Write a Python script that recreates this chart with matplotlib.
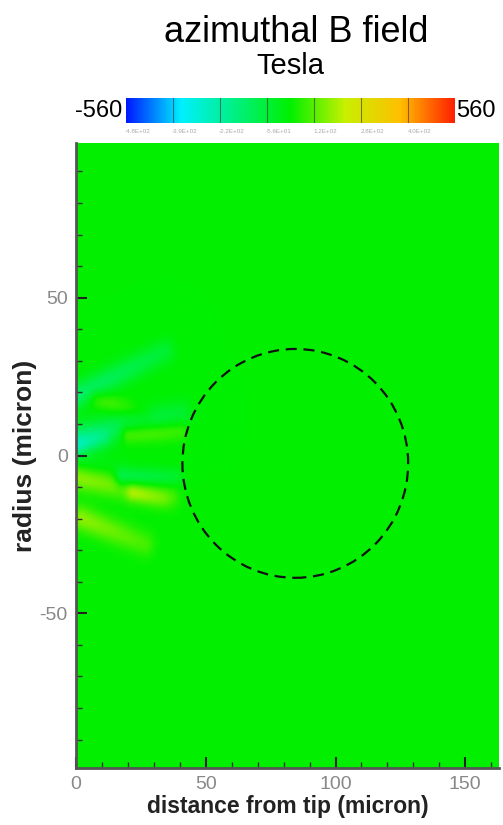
import numpy as np
import matplotlib
matplotlib.use('Agg')
import matplotlib.pyplot as plt
from matplotlib.colors import LinearSegmentedColormap
from matplotlib.patches import Ellipse

plt.rcParams['font.family'] = ['Liberation Sans', 'DejaVu Sans']
plt.rcParams['axes.unicode_minus'] = False

# colour range of the field (Tesla)
vmin, vmax = -560, 560
cbar_tick_labels = ['-4.8E+02', '-3.9E+02', '-2.2E+02', '-5.6E+01',
                    '1.2E+02', '2.8E+02', '4.0E+02']

# streaks in the field (micron, Tesla)
streak_x0 = [0, 8, 0, 20, 18, 0, 2, 0, 22, 2]
streak_y0 = [19, 18, 6, 7, -7, -7, -20, 3, -12, -2]
streak_x1 = [34, 26, 40, 40, 38, 36, 26, 10, 33, 16]
streak_y1 = [33, 13, 13, 8, -7, -13, -28, 5, -14, -4]
streak_w = [2.8, 2.2, 3.2, 2.2, 2.2, 2.8, 2.8, 2.2, 2.0, 2.5]
streak_val = [-150, 70, -150, 130, -140, 130, 130, -170, 90, -40]

# dashed circle (target)
circle_x, circle_y = 84.5, -2.5
circle_w, circle_h = 87.0, 72.5

x = np.linspace(0, 163, 400)
y = np.linspace(-99, 99, 500)
X, Y = np.meshgrid(x, y)
field = np.zeros_like(X)
for x0, y0, x1, y1, w, v in zip(streak_x0, streak_y0, streak_x1, streak_y1,
                                 streak_w, streak_val):
    dx, dy = x1 - x0, y1 - y0
    t = np.clip(((X - x0) * dx + (Y - y0) * dy) / (dx * dx + dy * dy), 0, 1)
    d2 = (X - (x0 + t * dx)) ** 2 + (Y - (y0 + t * dy)) ** 2
    field += v * np.exp(-d2 / (2 * w * w)) * (1 - 0.5 * t)

cmap = LinearSegmentedColormap.from_list(
    'tec', ['#0018ff', '#00f0ff', '#00f080', '#00f000', '#c8f000',
            '#ffc000', '#ff2000'])

fig = plt.figure(figsize=(5.03, 8.25), dpi=100)
ax = fig.add_axes([76 / 503, 57 / 825, 423 / 503, 625 / 825])
ax.imshow(field, extent=[0, 163, -99, 99], origin='lower', cmap=cmap,
          vmin=vmin, vmax=vmax, aspect='auto', interpolation='bilinear')
ax.add_patch(Ellipse((circle_x, circle_y), circle_w, circle_h, fill=False,
                     ec='#111111', lw=1.6, ls=(0, (5, 3))))
ax.set_xlim(0, 163)
ax.set_ylim(-99, 99)
ax.set_xticks([0, 50, 100, 150])
ax.set_yticks([-50, 0, 50])
ax.set_xticks(np.arange(0, 161, 10), minor=True)
ax.set_yticks(np.arange(-90, 91, 10), minor=True)
ax.tick_params(direction='in', length=8, width=1.5, color='#222222',
               labelsize=14, labelcolor='#888888', pad=6)
ax.tick_params(which='minor', direction='in', length=4, width=1, color='#333333')
for s in ['top', 'right']:
    ax.spines[s].set_visible(False)
for s in ['left', 'bottom']:
    ax.spines[s].set_color('#555555')
    ax.spines[s].set_linewidth(2)
ax.set_xlabel('distance from tip (micron)', fontsize=16.5, fontweight='bold',
              color='#222222', labelpad=1)
ax.set_ylabel('radius (micron)', fontsize=19, fontweight='bold',
              color='#222222', labelpad=2)

# colour bar
cax = fig.add_axes([126 / 503, 1 - 123 / 825, 329 / 503, 25 / 825])
grad = np.linspace(vmin, vmax, 256).reshape(1, -1)
cax.imshow(grad, extent=[vmin, vmax, 0, 1], cmap=cmap, vmin=vmin, vmax=vmax,
           aspect='auto')
bounds = np.linspace(vmin, vmax, 8)
for b in bounds[1:-1]:
    cax.axvline(b, color='#333333', lw=0.8, alpha=0.6)
cax.set_xlim(vmin, vmax)
cax.set_xticks([])
cax.set_yticks([])
for s in cax.spines.values():
    s.set_visible(False)
for b, lab in zip(bounds[:-1], cbar_tick_labels):
    cax.text(b + 40, -0.35, lab, fontsize=4.5, color='#aaaaaa', ha='center',
             va='center', transform=cax.transData)
fig.text(122 / 503, 1 - 111 / 825, '-560', fontsize=17, ha='right', va='center')
fig.text(456 / 503, 1 - 111 / 825, '560', fontsize=17, ha='left', va='center')

fig.text(296 / 503, 1 - 33 / 825, 'azimuthal B field', fontsize=26,
         ha='center', va='center')
fig.text(290 / 503, 1 - 66 / 825, 'Tesla', fontsize=21, ha='center',
         va='center')

fig.savefig('out.png', dpi=100)
plt.close(fig)
